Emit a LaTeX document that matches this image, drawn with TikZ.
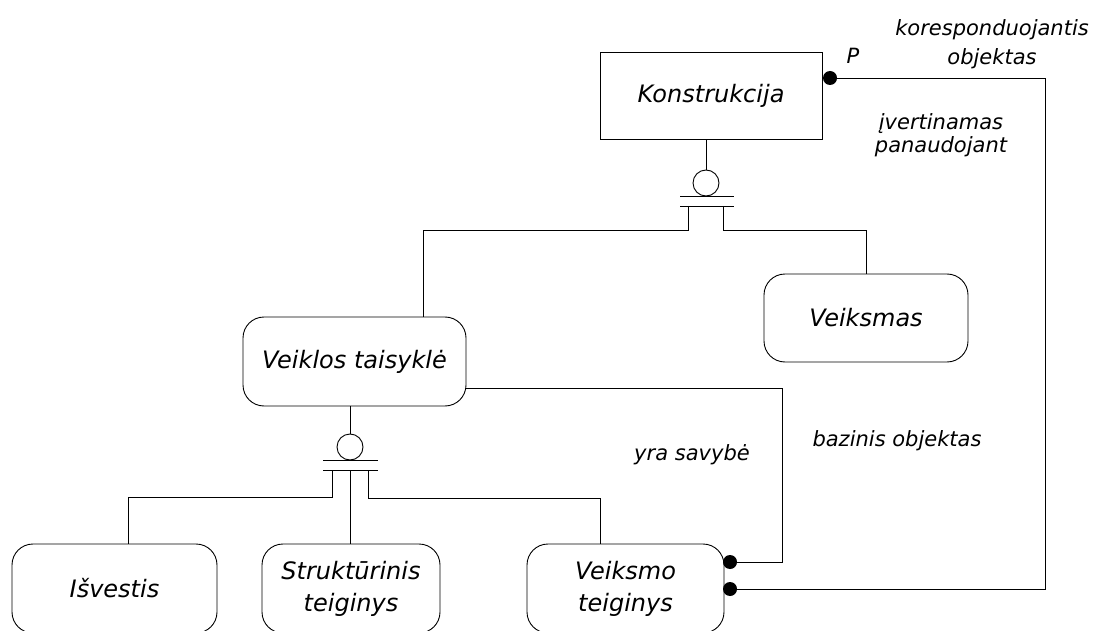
\documentclass[tikz,border=0pt]{standalone}
\usepackage{fontspec}
\setmainfont{DejaVu Sans}
\begin{document}
\begin{tikzpicture}[x=1pt,y=-1pt,line width=0.9pt,
  boxtext/.style={font=\fontsize{24}{32}\selectfont\itshape,align=center,inner sep=0pt},
  sqbox/.style={draw,rectangle,boxtext},
  rbox/.style={draw,rectangle,rounded corners=21pt,boxtext},
  ring/.style={draw,circle,minimum size=26pt,inner sep=0pt},
  dot/.style={fill,circle,minimum size=14pt,inner sep=0pt},
  lbl/.style={font=\fontsize{21}{27}\selectfont\itshape,align=center,inner sep=0pt}]
\useasboundingbox (0,0) rectangle (1106,631);
\clip (0,0) rectangle (1106,631);

% entities
\node[sqbox,minimum width=222pt,minimum height=87pt] (kon) at (711,95.5) {Konstrukcija};
\node[rbox,minimum width=204pt,minimum height=88pt] (vks) at (866,318) {Veiksmas};
\node[rbox,minimum width=223pt,minimum height=89pt] (vt) at (354.5,361.5) {Veiklos taisyklė};
\node[rbox,minimum width=205pt,minimum height=89pt] (isv) at (114.5,588.5) {Išvestis};
\node[rbox,minimum width=178pt,minimum height=89pt] (str) at (351,588.5) {Struktūrinis\\teiginys};
\node[rbox,minimum width=197pt,minimum height=89pt] (vtg) at (625.5,588.5) {Veiksmo\\teiginys};

% upper subtype junction
\node[ring] (c1) at (706,183) {};
\draw (kon.south -| c1) -- (c1.north);
\coordinate (b1l) at (680,196); \coordinate (b1r) at (734,196);
\coordinate (b2l) at (680,206); \coordinate (b2r) at (734,206);
\draw (b1l) -- (b1r);
\draw (b2l) -- (b2r);
\coordinate (u1) at (688,206); \coordinate (u2) at (723,206);
\coordinate (vt-top) at (423,317);
\draw (u1) -- ++(0,24) -| (vt-top);
\draw (u2) -- ++(0,24) -| (vks.north);

% lower subtype junction
\node[ring] (c2) at (350,447) {};
\draw (vt.south -| c2) -- (c2.north);
\coordinate (b3l) at (323,460); \coordinate (b3r) at (378,460);
\coordinate (b4l) at (323,470); \coordinate (b4r) at (378,470);
\draw (b3l) -- (b3r);
\draw (b4l) -- (b4r);
\coordinate (w1) at (332,470); \coordinate (w2) at (350,470); \coordinate (w3) at (368,470);
\coordinate (isv-top) at (128,544);
\coordinate (vtg-top) at (600,544);
\draw (w1) -- ++(0,27) -| (isv-top);
\draw (w2) -- (w2 |- str.north);
\draw (w3) -- ++(0,28) -| (vtg-top);

% relationships
\node[dot] (d1) at (830,78) {};
\node[dot] (d2) at (730,562) {};
\node[dot] (d3) at (730,589) {};
\coordinate (vt-out) at (466,388);
\coordinate (k1) at (782,388);
\coordinate (k2) at (1045,78);
\draw (vt-out) -- (k1) |- (d2.east);
\draw (d1.east) -- (k2) |- (d3.east);

% labels
\node[lbl] (p) at (853,56) {P};
\node[lbl,font=\fontsize{21}{29}\selectfont\itshape] (kor) at (992,44) {koresponduojantis\\objektas};
\node[lbl,font=\fontsize{21}{23}\selectfont\itshape] (ivp) at (941,135) {įvertinamas\\panaudojant};
\node[lbl] (ys) at (692,455) {yra savybė};
\node[lbl] (bo) at (897,441) {bazinis objektas};
\end{tikzpicture}
\end{document}
